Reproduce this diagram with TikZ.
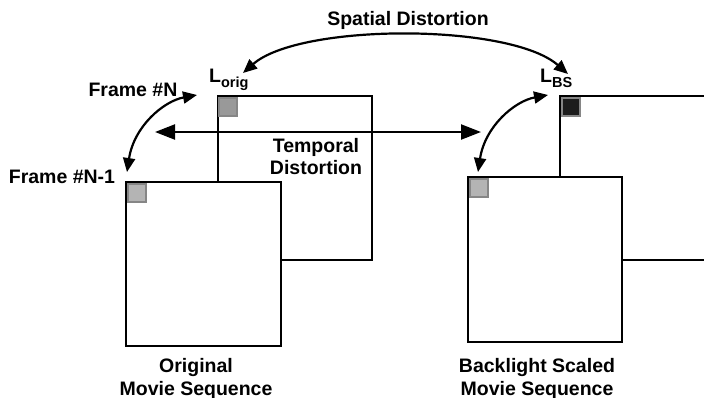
\documentclass[tikz,border=0pt]{standalone}
\usepackage{fontspec}
\setmainfont{Liberation Sans}
\usetikzlibrary{arrows.meta}
\definecolor{pixmid}{HTML}{999999}
\definecolor{pixlight}{HTML}{B4B4B4}
\definecolor{pixdark}{HTML}{1C1C1C}
\definecolor{pixedge}{HTML}{868686}
\begin{document}
\begin{tikzpicture}[x=1pt,y=-1pt,
  frame/.style={draw=black,line width=2pt,fill=white},
  pixel/.style={draw=pixedge,line width=1.8pt,minimum size=18pt,inner sep=0pt,anchor=north west},
  lbl/.style={font=\bfseries\fontsize{19.5}{21}\selectfont,inner sep=0pt,align=center},
  curvearrow/.style={line width=2.2pt,{Triangle[length=14pt,width=12pt]}-{Triangle[length=14pt,width=12pt]}},
  bigarrow/.style={line width=2.2pt,{Triangle[length=20pt,width=15pt]}-{Triangle[length=20pt,width=15pt]}}]
\useasboundingbox (0,0) rectangle (704,397);
\clip (0,0) rectangle (704,397);

% original sequence: frame N behind, frame N-1 in front
\draw[frame] (218,96) rectangle (372,260);
\draw[frame] (126,182) rectangle (281,346);
\node[pixel,fill=pixmid] (po) at (218,97) {};
\node[pixel,fill=pixlight] (pa) at (127,183) {};

% backlight scaled sequence
\draw[frame] (560,96) rectangle (720,260);
\draw[frame] (468,177) rectangle (622,342);
\node[pixel,fill=pixdark] (pb) at (561,97) {};
\node[pixel,fill=pixlight] (pc) at (469,178) {};

% labels
\node[lbl] (sd) at (408,20) {Spatial Distortion};
\node[lbl] (fn) at (133,90) {Frame \#N};
\node[lbl] (fn1) at (62,177) {Frame \#N-1};
\node[lbl] (td) at (316,157) {Temporal\\[1pt]Distortion};
\node[lbl,anchor=base west] (lo) at (209,82) {L\raisebox{-5pt}{\fontsize{14.5}{14}\selectfont orig}};
\node[lbl,anchor=base west] (lb) at (540,82) {L\raisebox{-5pt}{\fontsize{14.5}{14}\selectfont BS}};
\node[lbl] (os) at (196,379) {Original\\[2pt]Movie Sequence};
\node[lbl] (bs) at (537,379) {Backlight Scaled\\[2pt]Movie Sequence};

% arrow end points
\coordinate (sl) at (243,73);
\coordinate (sr) at (568,74);
\coordinate (tl) at (155,132);
\coordinate (tr) at (481,132);
\coordinate (fa) at (127,172);
\coordinate (fb) at (197,95);
\coordinate (ga) at (478,172);
\coordinate (gb) at (548,95);

% distortion arrows
\draw[curvearrow] (sl) .. controls (300,23) and (510,23) .. (sr);
\draw[bigarrow] (tl) -- (tr);
\draw[curvearrow] (fa) .. controls (134,126) and (164,101) .. (fb);
\draw[curvearrow] (ga) .. controls (485,126) and (515,101) .. (gb);
\end{tikzpicture}
\end{document}
